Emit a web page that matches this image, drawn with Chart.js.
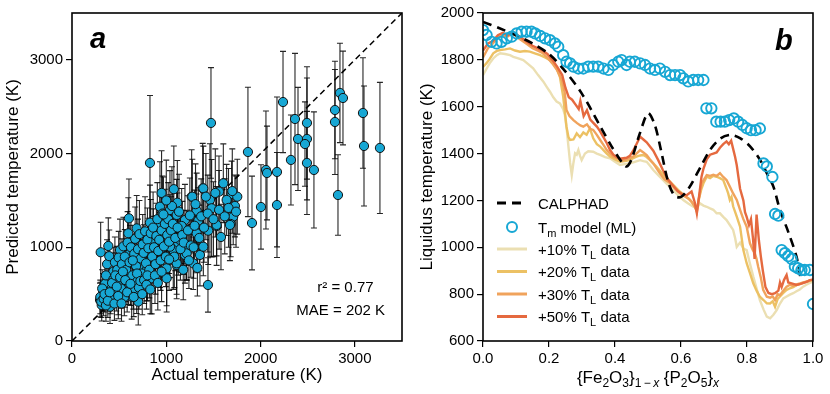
<!DOCTYPE html>
<html>
<head>
<meta charset="utf-8">
<script src="https://cdn.jsdelivr.net/npm/chart.js@4.4.1/dist/chart.umd.min.js"></script>
<style>
  html, body { margin: 0; padding: 0; background: #fff; }
  #wrap { position: relative; width: 830px; height: 394px; }
  canvas { position: absolute; top: 0; }
  #chartA { left: 0; }
  #chartB { left: 415px; }
</style>
</head>
<body>
<div id="wrap">
  <canvas id="chartA" width="415" height="394"></canvas>
  <canvas id="chartB" width="415" height="394"></canvas>
</div>
<script>
// ---- panel a : predicted vs actual ----
const actualT = [
  827, 1474, 1866, 2057, 2068, 2174, 2238, 2322, 2365, 2397,
  2492, 2492, 2471, 2492, 2566, 2789, 2789, 2842, 2874, 2821,
  3086, 3097, 3266, 1909, 2004, 2174, 1442, 1605, 1559, 1693,
  1753, 1640, 1728, 1710, 1683, 1534, 1445, 1322, 1117, 1269,
  1386, 1463, 1481, 1322, 1198, 1340, 1039, 933, 1163, 1357,
  1216, 1127, 1039, 968, 1074, 933, 1110, 1004, 1198, 1286,
  1393, 1276, 304, 385, 604, 597, 686, 827, 1110, 933,
  703, 297, 315, 403, 438, 509, 615, 721, 845, 1004,
  1110, 1216, 1393, 1534, 1675, 1145, 1039, 862, 792, 580,
  633, 491, 403, 686, 562, 330, 350, 360, 372, 395,
  410, 420, 440, 455, 470, 480, 495, 500, 520, 530,
  545, 555, 560, 575, 590, 600, 610, 625, 640, 650,
  660, 670, 680, 695, 700, 715, 730, 740, 750, 760,
  775, 785, 800, 810, 820, 835, 850, 860, 870, 885,
  895, 905, 915, 925, 940, 950, 960, 975, 985, 995,
  1010, 1020, 1030, 1050, 1060, 1070, 1085, 1095, 1120, 1135,
  1150, 1170, 1185, 1230, 1250, 1260, 1300, 1310, 1350, 1370,
  1400, 1420, 1440, 1500, 1520, 1560, 1580, 1620, 1660, 1700,
  1740, 300, 310, 320, 335, 345, 360, 380, 400, 425,
  450, 460, 475, 490, 510, 525, 540, 565, 585, 620,
  645, 655, 690, 710, 725, 745, 765, 790, 800, 830,
  880, 910, 950, 1030, 1180, 1240, 1290, 1330, 950, 1000,
  1080, 970
];
const predictedT = [
  1900, 2327, 2017, 1825, 1793, 1804, 2550, 1932, 2369, 2156,
  2327, 2156, 2102, 1900, 1825, 2465, 2337, 2647, 2593, 1558,
  2433, 2081, 2060, 1259, 1430, 1451, 598, 1683, 1594, 1569,
  1540, 1505, 1441, 1327, 1249, 1227, 1177, 1149, 1476, 1540,
  1629, 1505, 1416, 1391, 1291, 1285, 1398, 1433, 1227, 918,
  1025, 1043, 1210, 1149, 971, 971, 811, 776, 918, 829,
  1629, 1540, 947, 1014, 1309, 1149, 1202, 1263, 1345, 1238,
  420, 438, 384, 598, 740, 971, 935, 793, 669, 669,
  829, 935, 1006, 1238, 1238, 1078, 1006, 1060, 758, 704,
  473, 438, 366, 544, 580, 520, 610, 700, 820, 905,
  480, 560, 660, 840, 520, 760, 890, 640, 560, 820,
  1010, 470, 900, 760, 1050, 620, 840, 1000, 700, 560,
  930, 1090, 800, 640, 980, 1140, 880, 720, 1030, 940,
  1170, 830, 1080, 990, 760, 1150, 900, 1210, 1000, 820,
  1120, 1300, 960, 1080, 860, 1180, 1360, 1010, 1250, 900,
  1130, 1300, 1060, 1180, 1440, 1250, 900, 1100, 1210, 1380,
  980, 1130, 1050, 1180, 1340, 1020, 1230, 1460, 1100, 1330,
  1210, 1540, 1360, 1300, 1580, 1400, 1110, 1330, 1420, 1600,
  1380, 470, 420, 560, 450, 500, 380, 430, 520, 620,
  400, 700, 580, 480, 680, 400, 740, 650, 520, 610,
  860, 470, 720, 570, 640, 500, 650, 600, 700, 550,
  700, 620, 740, 870, 760, 860, 1000, 780, 1580, 1500,
  1620, 1350
];
const predErr = [
  720, 590, 690, 630, 500, 800, 540, 480, 700, 550,
  600, 650, 450, 550, 620, 520, 560, 530, 500, 430,
  590, 640, 700, 500, 450, 560, 290, 420, 380, 350,
  400, 380, 330, 300, 350, 420, 360, 420, 450, 500,
  480, 600, 520, 400, 380, 350, 420, 480, 400, 330,
  370, 340, 350, 390, 420, 400, 360, 400, 300, 280,
  450, 400, 320, 300, 420, 380, 350, 400, 380, 360,
  250, 180, 170, 230, 260, 330, 300, 290, 380, 360,
  330, 290, 310, 330, 380, 340, 330, 350, 330, 260,
  240, 200, 180, 250, 220, 200, 220, 240, 260, 280,
  190, 210, 230, 270, 200, 250, 280, 230, 210, 270,
  310, 200, 290, 250, 330, 230, 280, 300, 250, 220,
  300, 340, 270, 240, 320, 360, 290, 260, 320, 300,
  370, 290, 340, 320, 300, 360, 310, 380, 330, 320,
  350, 390, 330, 350, 320, 360, 400, 330, 370, 320,
  350, 390, 340, 360, 420, 380, 330, 350, 370, 400,
  330, 360, 340, 370, 400, 340, 380, 430, 350, 400,
  370, 460, 410, 400, 470, 420, 350, 400, 420, 450,
  380, 180, 170, 200, 180, 190, 170, 180, 200, 220,
  180, 240, 210, 200, 240, 190, 250, 230, 210, 230,
  280, 210, 260, 230, 240, 220, 250, 260, 270, 260,
  300, 290, 320, 330, 320, 300, 330, 300, 450, 430,
  460, 400
];
const parityLine = [0, 3500];
const ticksA = [0, 1000, 2000, 3000];

// ---- panel b : liquidus vs composition ----
const ticksBx = [0, 0.2, 0.4, 0.6, 0.8, 1.0];
const ticksBy = [600, 800, 1000, 1200, 1400, 1600, 1800, 2000];

const calphadX = [0, 0.05, 0.1, 0.15, 0.2, 0.25, 0.3, 0.35, 0.39, 0.42, 0.435, 0.45, 0.475, 0.5, 0.52,
  0.54, 0.56, 0.58, 0.6, 0.625, 0.66, 0.69, 0.72, 0.75, 0.78, 0.81, 0.84, 0.86, 0.88, 0.9, 0.925, 0.95, 0.962];
const calphadT = [1962, 1935, 1905, 1870, 1825, 1750, 1655, 1530, 1430, 1365, 1345, 1375, 1485, 1572, 1525,
  1410, 1285, 1220, 1215, 1255, 1345, 1420, 1465, 1480, 1465, 1430, 1372, 1316, 1259, 1159, 1066, 960, 870];

const tmX = [
  0, 0.011, 0.026, 0.041, 0.056, 0.072, 0.087, 0.102, 0.117, 0.132,
  0.147, 0.158, 0.173, 0.188, 0.203, 0.218, 0.228, 0.243, 0.253, 0.264,
  0.274, 0.289, 0.304, 0.319, 0.334, 0.349, 0.365, 0.38, 0.395, 0.41,
  0.42, 0.435, 0.445, 0.46, 0.476, 0.491, 0.506, 0.521, 0.536, 0.552,
  0.567, 0.582, 0.597, 0.607, 0.622, 0.637, 0.652, 0.668,
  0.677, 0.692, 0.707, 0.72, 0.733, 0.746, 0.76, 0.773, 0.786, 0.799,
  0.812, 0.826, 0.839,
  0.85, 0.86, 0.877, 0.885, 0.895, 0.905, 0.915, 0.925, 0.935, 0.945,
  0.955, 0.965, 0.975, 0.99, 1.0
];
const tmT = [
  1927, 1906, 1877, 1870, 1877, 1892, 1899, 1913, 1920, 1920,
  1920, 1913, 1902, 1892, 1884, 1870, 1856, 1820, 1792, 1785,
  1771, 1763, 1763, 1771, 1771, 1771, 1763, 1757, 1778, 1792,
  1799, 1778, 1792, 1792, 1785, 1778, 1763, 1757, 1763, 1749,
  1735, 1735, 1735, 1721, 1708, 1714, 1714, 1714,
  1593, 1593, 1536, 1536, 1536, 1543, 1550, 1536, 1522, 1508,
  1500, 1500, 1507,
  1358, 1345, 1300, 1142, 1135, 988, 975, 962, 950, 918,
  910, 903, 903, 903, 758
];

const tl10X = [
  0, 0.01, 0.02, 0.031, 0.042, 0.052, 0.067, 0.082, 0.092, 0.107,
  0.122, 0.137, 0.152, 0.167, 0.183, 0.193, 0.203, 0.213, 0.223, 0.233,
  0.243, 0.248, 0.254, 0.259, 0.264, 0.269, 0.274, 0.279, 0.284, 0.289,
  0.294, 0.299, 0.309, 0.319, 0.334, 0.345, 0.355, 0.37, 0.385, 0.4,
  0.415, 0.43, 0.445, 0.46, 0.476, 0.486, 0.496, 0.506, 0.516, 0.531,
  0.546, 0.561, 0.576, 0.592, 0.607, 0.622, 0.637, 0.648, 0.658, 0.668,
  0.678, 0.688, 0.698, 0.708, 0.718, 0.728, 0.738, 0.748, 0.758, 0.764,
  0.769, 0.779, 0.789, 0.799, 0.809, 0.819, 0.829, 0.839, 0.85, 0.86,
  0.87, 0.88, 0.89, 0.9, 0.91, 0.92, 0.93, 0.94, 0.95, 0.96,
  0.97, 0.98, 0.99, 1.0
];
const tl10T = [
  1735, 1760, 1785, 1806, 1820, 1828, 1825, 1820, 1813, 1806,
  1799, 1782, 1764, 1735, 1707, 1685, 1664, 1640, 1622, 1614,
  1590, 1565, 1500, 1429, 1360, 1308, 1360, 1401, 1395, 1415,
  1390, 1372, 1400, 1410, 1408, 1400, 1394, 1385, 1380, 1365,
  1351, 1355, 1358, 1365, 1372, 1368, 1365, 1348, 1330, 1308,
  1287, 1265, 1244, 1222, 1202, 1187, 1173, 1168, 1187, 1178,
  1173, 1166, 1160, 1145, 1145, 1130, 1116, 1095, 1074, 1040,
  1002, 1020, 995, 988, 930, 875, 825, 775, 735, 704,
  697, 712, 732, 760, 782, 790, 798, 804, 812, 820,
  832, 840, 848, 853
];

const tl20X = [
  0, 0.01, 0.021, 0.031, 0.042, 0.052, 0.067, 0.082, 0.097, 0.112,
  0.127, 0.142, 0.157, 0.173, 0.188, 0.203, 0.213, 0.223, 0.233, 0.243,
  0.248, 0.253, 0.259, 0.264, 0.274, 0.284, 0.294, 0.304, 0.314, 0.324,
  0.334, 0.345, 0.355, 0.365, 0.375, 0.385, 0.4, 0.415, 0.43, 0.445,
  0.455, 0.465, 0.476, 0.486, 0.496, 0.506, 0.516, 0.526, 0.54, 0.557,
  0.577, 0.597, 0.612, 0.627, 0.637, 0.648, 0.655, 0.662, 0.668, 0.678,
  0.688, 0.698, 0.708, 0.718, 0.728, 0.738, 0.743, 0.748, 0.753, 0.758,
  0.769, 0.779, 0.789, 0.799, 0.809, 0.819, 0.829, 0.839, 0.85, 0.86,
  0.87, 0.878, 0.885, 0.893, 0.9, 0.91, 0.92, 0.93, 0.94, 0.95,
  0.96, 0.97, 0.98, 0.99, 1.0
];
const tl20T = [
  1770, 1785, 1805, 1828, 1838, 1842, 1845, 1849, 1840, 1835,
  1838, 1835, 1828, 1820, 1810, 1799, 1785, 1764, 1728, 1643,
  1580, 1515, 1470, 1458, 1460, 1486, 1470, 1490, 1480, 1508,
  1465, 1440, 1430, 1415, 1400, 1387, 1375, 1365, 1368, 1372,
  1380, 1387, 1392, 1394, 1385, 1372, 1358, 1344, 1320, 1294,
  1265, 1237, 1220, 1202, 1185, 1159, 1210, 1250, 1273, 1301,
  1295, 1305, 1301, 1295, 1287, 1250, 1230, 1202, 1215, 1175,
  1131, 1088, 988, 932, 890, 846, 815, 789, 775, 761,
  760, 770, 746, 780, 790, 805, 818, 825, 830, 838,
  843, 848, 853, 857, 860
];

const tl30X = [
  0, 0.015, 0.03, 0.045, 0.06, 0.075, 0.09, 0.105, 0.12, 0.135,
  0.15, 0.165, 0.18, 0.195, 0.21, 0.225, 0.24, 0.248, 0.253, 0.262,
  0.274, 0.285, 0.295, 0.304, 0.315, 0.325, 0.334, 0.345, 0.355, 0.365,
  0.375, 0.385, 0.395, 0.41, 0.425, 0.44, 0.455, 0.465, 0.476, 0.486,
  0.496, 0.506, 0.516, 0.536, 0.55, 0.567, 0.582, 0.597, 0.61, 0.622,
  0.632, 0.642, 0.648, 0.655, 0.663, 0.67, 0.678, 0.688, 0.698, 0.708,
  0.718, 0.728, 0.738, 0.748, 0.758, 0.769, 0.779, 0.789, 0.799, 0.809,
  0.817, 0.824, 0.829, 0.834, 0.842, 0.849, 0.86, 0.87, 0.878, 0.885,
  0.893, 0.9, 0.91, 0.92, 0.93, 0.94, 0.95, 0.961, 0.97, 0.98,
  0.99, 1.0
];
const tl30T = [
  1810, 1850, 1870, 1895, 1905, 1900, 1915, 1895, 1880, 1865,
  1850, 1840, 1830, 1810, 1785, 1755, 1710, 1657, 1586, 1560,
  1543, 1530, 1520, 1515, 1525, 1505, 1501, 1480, 1458, 1437,
  1415, 1400, 1387, 1378, 1372, 1378, 1387, 1400, 1415, 1405,
  1394, 1375, 1358, 1316, 1290, 1273, 1250, 1230, 1218, 1209,
  1195, 1173, 1152, 1215, 1273, 1290, 1308, 1305, 1310, 1305,
  1316, 1300, 1287, 1259, 1230, 1202, 1160, 1120, 1088, 1017,
  990, 974, 950, 917, 870, 818, 789, 785, 790, 775,
  800, 795, 815, 832, 840, 835, 842, 846, 850, 853,
  858, 862
];

const tl50X = [
  0, 0.015, 0.03, 0.045, 0.06, 0.075, 0.09, 0.105, 0.12, 0.135,
  0.15, 0.165, 0.18, 0.195, 0.21, 0.225, 0.24, 0.25, 0.26, 0.27,
  0.28, 0.29, 0.295, 0.305, 0.315, 0.325, 0.335, 0.345, 0.355, 0.365,
  0.375, 0.385, 0.395, 0.405, 0.415, 0.425, 0.435, 0.445, 0.455, 0.465,
  0.476, 0.486, 0.496, 0.506, 0.516, 0.531, 0.545, 0.56, 0.575, 0.59,
  0.605, 0.617, 0.632, 0.642, 0.648, 0.655, 0.662, 0.668, 0.678, 0.688,
  0.698, 0.708, 0.718, 0.728, 0.738, 0.745, 0.752, 0.758, 0.764, 0.769,
  0.774, 0.779, 0.784, 0.789, 0.794, 0.799, 0.806, 0.812, 0.818, 0.823,
  0.829, 0.836, 0.842, 0.848, 0.856, 0.865, 0.875, 0.885, 0.895, 0.9,
  0.905, 0.912, 0.92, 0.925, 0.935, 0.95, 0.965, 0.98, 0.99, 1.0
];
const tl50T = [
  1840, 1870, 1880, 1905, 1915, 1905, 1920, 1905, 1890, 1875,
  1860, 1850, 1840, 1825, 1800, 1770, 1735, 1680, 1640, 1630,
  1610, 1590, 1625, 1560, 1585, 1545, 1530, 1515, 1495, 1470,
  1445, 1415, 1395, 1385, 1378, 1380, 1382, 1390, 1412, 1440,
  1472, 1460, 1448, 1430, 1412, 1372, 1330, 1290, 1265, 1240,
  1225, 1222, 1238, 1190, 1145, 1220, 1300, 1335, 1375, 1395,
  1400, 1405, 1425, 1440, 1452, 1440, 1455, 1420, 1385, 1350,
  1300, 1250, 1225, 1200, 1150, 1130, 1095, 1120, 1040, 950,
  1140, 1030, 960, 900, 830, 805, 800, 804, 815, 850,
  830, 860, 882, 850, 846, 839, 845, 852, 860, 862
];

const seriesLabels = ['CALPHAD', 'T|m| model (ML)', '+10% T|L| data', '+20% T|L| data', '+30% T|L| data', '+50% T|L| data'];

const FONT = '"Liberation Sans", Arial, Helvetica, sans-serif';
const CYAN = '#17a7d4';
const COL10 = '#ebdfb2';
const COL20 = '#ecc164';
const COL30 = '#f0a35c';
const COL50 = '#e5693f';

Chart.defaults.font.family = FONT;
Chart.defaults.color = '#000';

function toPts(xs, ys) {
  return xs.map((x, i) => ({ x: x, y: ys[i] }));
}

// draws text where |...| segments are subscripts
function drawSub(ctx, str, x, y, size, subSize, drop, align) {
  const parts = str.split('|');
  let total = 0;
  parts.forEach((p, i) => {
    ctx.font = (i % 2 ? subSize : size) + 'px ' + FONT;
    total += ctx.measureText(p).width;
  });
  let cx = align === 'center' ? x - total / 2 : x;
  ctx.textAlign = 'left';
  ctx.textBaseline = 'alphabetic';
  parts.forEach((p, i) => {
    ctx.font = (i % 2 ? subSize : size) + 'px ' + FONT;
    ctx.fillText(p, cx, i % 2 ? y + drop : y);
    cx += ctx.measureText(p).width;
  });
}

const framePlugin = {
  id: 'frame',
  afterDatasetsDraw(chart) {
    const { ctx, chartArea: a } = chart;
    ctx.save();
    ctx.strokeStyle = '#000';
    ctx.lineWidth = 1.6;
    ctx.strokeRect(a.left, a.top, a.right - a.left, a.bottom - a.top);
    ctx.restore();
  }
};

const errorBarPlugin = {
  id: 'errorBars',
  beforeDatasetsDraw(chart) {
    const { ctx, scales: { x, y } } = chart;
    ctx.save();
    ctx.strokeStyle = 'rgba(0,0,0,0.85)';
    ctx.lineWidth = 1.1;
    actualT.forEach((t, i) => {
      const px = x.getPixelForValue(t);
      const top = y.getPixelForValue(predictedT[i] + predErr[i]);
      const bot = y.getPixelForValue(predictedT[i] - predErr[i]);
      ctx.beginPath();
      ctx.moveTo(px, top); ctx.lineTo(px, bot);
      ctx.moveTo(px - 3, top); ctx.lineTo(px + 3, top);
      ctx.moveTo(px - 3, bot); ctx.lineTo(px + 3, bot);
      ctx.stroke();
    });
    ctx.restore();
  }
};

const annotA = {
  id: 'annotA',
  afterDraw(chart) {
    const { ctx, chartArea: a, scales: { x, y } } = chart;
    ctx.save();
    ctx.fillStyle = '#000';
    ctx.font = 'italic bold 29px ' + FONT;
    ctx.textAlign = 'left';
    ctx.textBaseline = 'alphabetic';
    ctx.fillText('a', a.left + 18, a.top + 35);
    ctx.font = '15px ' + FONT;
    ctx.textAlign = 'center';
    ctx.textBaseline = 'middle';
    ctx.fillText('r\u00B2 = 0.77', x.getPixelForValue(2900), y.getPixelForValue(565));
    ctx.fillText('MAE = 202 K', x.getPixelForValue(2850), y.getPixelForValue(320));
    ctx.restore();
  }
};

const fixedTicks = vals => s => { s.ticks = vals.map(v => ({ value: v })); };

new Chart(document.getElementById('chartA'), {
  type: 'scatter',
  data: {
    datasets: [
      {
        label: 'Predictions',
        data: toPts(actualT, predictedT),
        backgroundColor: CYAN,
        borderColor: '#111',
        borderWidth: 1,
        pointRadius: 4.6
      },
      {
        label: 'Parity',
        data: toPts(parityLine, parityLine),
        showLine: true,
        borderColor: '#000',
        borderWidth: 1.5,
        borderDash: [6, 4],
        pointRadius: 0
      }
    ]
  },
  options: {
    responsive: false,
    animation: false,
    events: [],
    layout: { padding: { top: 13, right: 13, left: 0, bottom: 0 } },
    plugins: { legend: { display: false }, tooltip: { enabled: false } },
    scales: {
      x: {
        type: 'linear', min: 0, max: 3500,
        afterBuildTicks: fixedTicks(ticksA),
        ticks: { font: { size: 15 }, padding: 3, maxRotation: 0, callback: v => String(v) },
        grid: { drawOnChartArea: false, color: '#000', lineWidth: 1.2, tickLength: 6 },
        border: { display: false },
        title: { display: true, text: 'Actual temperature (K)', font: { size: 17 }, padding: { top: 0, bottom: 8 } },
        afterFit: s => { s.height = 53; }
      },
      y: {
        type: 'linear', min: 0, max: 3500,
        afterBuildTicks: fixedTicks(ticksA),
        ticks: { font: { size: 15 }, padding: 3, callback: v => String(v) },
        grid: { drawOnChartArea: false, color: '#000', lineWidth: 1.2, tickLength: 6 },
        border: { display: false },
        title: { display: true, text: 'Predicted temperature (K)', font: { size: 17 }, padding: { top: 3, bottom: 0 } },
        afterFit: s => { s.width = 72; }
      }
    }
  },
  plugins: [errorBarPlugin, framePlugin, annotA]
});

// ---- panel b ----
const annotB = {
  id: 'annotB',
  afterDraw(chart) {
    const { ctx, chartArea: a } = chart;
    ctx.save();
    ctx.fillStyle = '#000';
    ctx.font = 'italic bold 29px ' + FONT;
    ctx.textAlign = 'left';
    ctx.textBaseline = 'alphabetic';
    ctx.fillText('b', a.left + 292, a.top + 37);

    // x-axis title with subscripts
    const cx = (a.left + a.right) / 2;
    const parts = [
      ['{Fe', 17, 0, ''], ['2', 12, 4, ''], ['O', 17, 0, ''], ['3', 12, 4, ''], ['}', 17, 0, ''],
      ['1\u2009\u2212\u2009', 12, 4, ''], ['x', 12, 4, 'italic '], [' {P', 17, 0, ''], ['2', 12, 4, ''],
      ['O', 17, 0, ''], ['5', 12, 4, ''], ['}', 17, 0, ''], ['x', 12, 4, 'italic ']
    ];
    let total = 0;
    parts.forEach(p => { ctx.font = p[3] + p[1] + 'px ' + FONT; total += ctx.measureText(p[0]).width; });
    let px = cx - total / 2;
    const base = 383;
    parts.forEach(p => {
      ctx.font = p[3] + p[1] + 'px ' + FONT;
      ctx.fillText(p[0], px, base + p[2]);
      px += ctx.measureText(p[0]).width;
    });

    // legend
    const lx0 = a.left + 14, lx1 = a.left + 44, tx = a.left + 55;
    const rows = [a.top + 190, a.top + 214, a.top + 236, a.top + 258.5, a.top + 281, a.top + 303.5];
    const styles = [
      { color: '#000', dash: [9, 6] },
      { circle: true },
      { color: COL10 }, { color: COL20 }, { color: COL30 }, { color: COL50 }
    ];
    rows.forEach((ry, i) => {
      const st = styles[i];
      ctx.save();
      if (st.circle) {
        ctx.strokeStyle = CYAN;
        ctx.lineWidth = 2;
        ctx.beginPath();
        ctx.arc((lx0 + lx1) / 2, ry, 5, 0, Math.PI * 2);
        ctx.stroke();
      } else {
        ctx.strokeStyle = st.color;
        ctx.lineWidth = 3;
        ctx.setLineDash(st.dash || []);
        ctx.beginPath();
        ctx.moveTo(lx0, ry); ctx.lineTo(lx1, ry);
        ctx.stroke();
      }
      ctx.restore();
      drawSub(ctx, seriesLabels[i], tx, ry + 5.5, 15, 11, 4, 'left');
    });
    ctx.restore();
  }
};

new Chart(document.getElementById('chartB'), {
  type: 'scatter',
  data: {
    datasets: [
      {
        label: seriesLabels[1],
        data: toPts(tmX, tmT),
        backgroundColor: 'rgba(0,0,0,0)',
        borderColor: CYAN,
        borderWidth: 1.9,
        pointRadius: 5.2
      },
      {
        label: seriesLabels[0],
        data: toPts(calphadX, calphadT),
        showLine: true, tension: 0.3, borderColor: '#000', borderWidth: 2.6, borderDash: [9, 6], pointRadius: 0
      },
      {
        label: seriesLabels[5], data: toPts(tl50X, tl50T),
        showLine: true, borderColor: COL50, borderWidth: 2.4, pointRadius: 0
      },
      {
        label: seriesLabels[4], data: toPts(tl30X, tl30T),
        showLine: true, borderColor: COL30, borderWidth: 2.4, pointRadius: 0
      },
      {
        label: seriesLabels[3], data: toPts(tl20X, tl20T),
        showLine: true, borderColor: COL20, borderWidth: 2.4, pointRadius: 0
      },
      {
        label: seriesLabels[2], data: toPts(tl10X, tl10T),
        showLine: true, borderColor: COL10, borderWidth: 2.4, pointRadius: 0
      }
    ]
  },
  options: {
    responsive: false,
    animation: false,
    events: [],
    layout: { padding: { top: 13, right: 17, left: 0, bottom: 0 } },
    plugins: { legend: { display: false }, tooltip: { enabled: false } },
    scales: {
      x: {
        type: 'linear', min: 0, max: 1,
        afterBuildTicks: fixedTicks(ticksBx),
        ticks: { font: { size: 15 }, padding: 3, maxRotation: 0, callback: v => v.toFixed(1) },
        grid: { drawOnChartArea: false, color: '#000', lineWidth: 1.2, tickLength: 6 },
        border: { display: false },
        afterFit: s => { s.height = 53; }
      },
      y: {
        type: 'linear', min: 600, max: 2000,
        afterBuildTicks: fixedTicks(ticksBy),
        ticks: { font: { size: 15 }, padding: 3, callback: v => String(v) },
        grid: { drawOnChartArea: false, color: '#000', lineWidth: 1.2, tickLength: 6 },
        border: { display: false },
        title: { display: true, text: 'Liquidus temperature (K)', font: { size: 17 }, padding: { top: 2, bottom: 0 } },
        afterFit: s => { s.width = 68; }
      }
    }
  },
  plugins: [framePlugin, annotB]
});
</script>
</body>
</html>
